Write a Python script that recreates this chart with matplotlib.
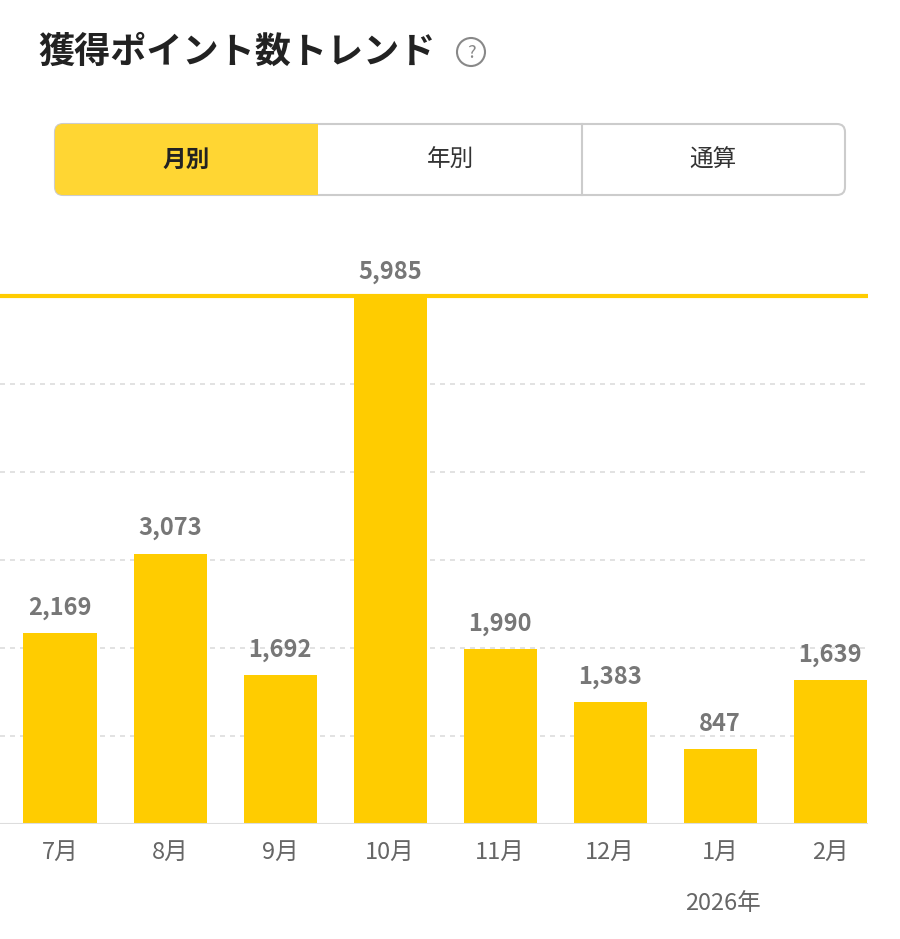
import matplotlib
matplotlib.use("Agg")
import matplotlib.pyplot as plt
from matplotlib.patches import FancyBboxPatch, Rectangle, Circle

plt.rcParams['font.family'] = ['Noto Sans CJK JP', 'DejaVu Sans']

months = ["7月", "8月", "9月", "10月", "11月", "12月", "1月", "2月"]
values = [2169, 3073, 1692, 5985, 1990, 1383, 847, 1639]
tabs = ["月別", "年別", "通算"]
title = "獲得ポイント数トレンド"
year_label = "2026年"

W, H = 900, 939
fig = plt.figure(figsize=(W/100, H/100), dpi=100)
YEL = "#FFCC00"

def fx(px): return px / W
def fy(py): return 1 - py / H

fig.text(fx(38), fy(52), title, fontsize=26, fontweight='bold', color='#222222', va='center', ha='left')
ov = fig.add_axes([0, 0, 1, 1], facecolor='none')
ov.set_xlim(0, W); ov.set_ylim(H, 0); ov.axis('off')
ov.add_patch(Circle((471, 52), 14, fill=False, ec='#888888', lw=1.5))
ov.text(471, 53, "?", ha='center', va='center', fontsize=13, color='#888888')

ov.add_patch(FancyBboxPatch((55, 124), 790, 71, boxstyle="round,pad=0,rounding_size=8",
                            fc='white', ec='#cccccc', lw=1.5))
ov.add_patch(FancyBboxPatch((55, 124), 263, 71, boxstyle="round,pad=0,rounding_size=8",
                            fc='#FFD633', ec='none'))
ov.add_patch(Rectangle((300, 124), 18, 71, fc='#FFD633', ec='none'))
ov.plot([582, 582], [124, 195], color='#cccccc', lw=1.5)
centers = [186, 450, 713]
for i, t in enumerate(tabs):
    ov.text(centers[i], 160, t, ha='center', va='center', fontsize=17,
            fontweight='bold' if i == 0 else 'normal', color='#222222' if i == 0 else '#333333')
ov.text(723, 903, year_label, ha='center', va='center', fontsize=17, color='#666666')

ax = fig.add_axes([0, fy(824), fx(868), fy(240) - fy(824)])
x = list(range(len(months)))
ax.bar(x, values, width=73/110, color=YEL, zorder=3)
ax.set_xlim(-60/110, 808/110)
ax.set_ylim(0, 584/88*1000)
for g in [1000, 2000, 3000, 4000, 5000]:
    ax.axhline(g, color='#dddddd', lw=1.2, ls=(0, (3, 3)), zorder=1)
ax.axhline(6000, color=YEL, lw=3, zorder=4)
ax.axhline(0, color='#dddddd', lw=1.5, zorder=4)
for xi, v in zip(x, values):
    ax.text(xi, v + 150, f"{v:,}", ha='center', va='bottom', fontsize=17, fontweight='bold', color='#777777', zorder=5)
ax.set_xticks(x)
ax.set_xticklabels(months, fontsize=17, color='#666666')
ax.tick_params(axis='x', length=0, pad=12)
ax.set_yticks([])
for s in ax.spines.values():
    s.set_visible(False)

fig.savefig("out.png", dpi=100)
